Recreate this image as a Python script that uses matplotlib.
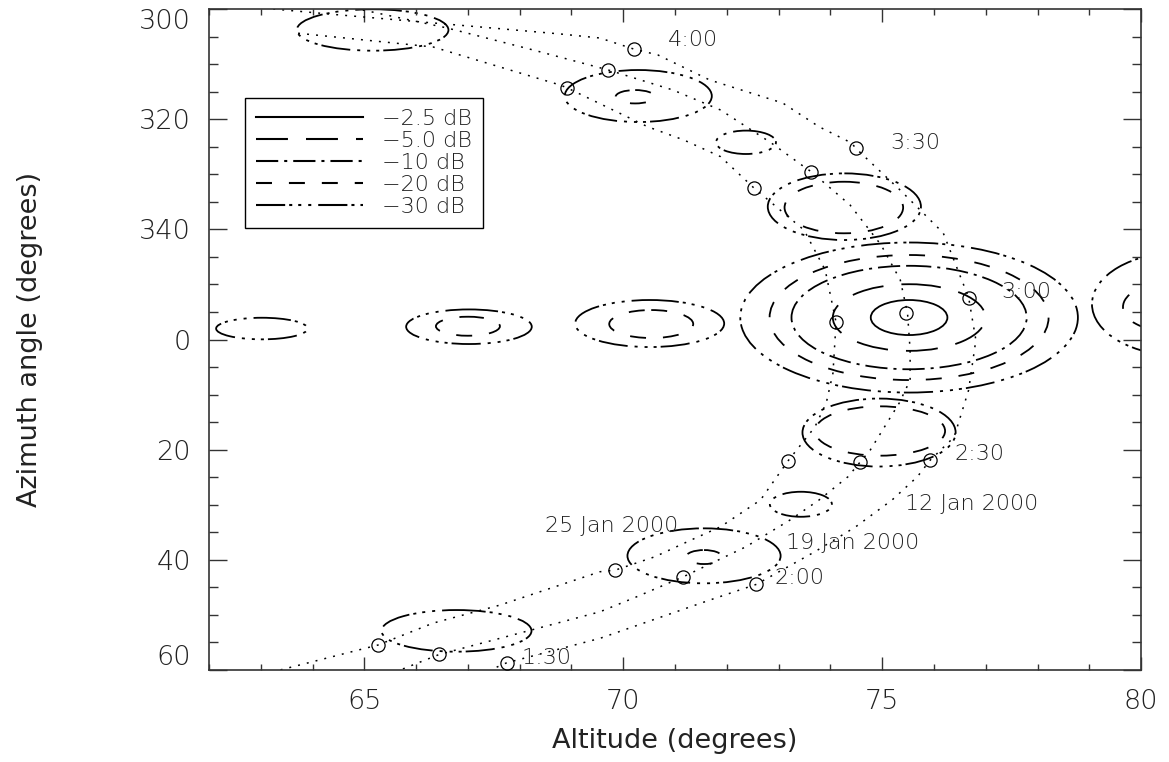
import matplotlib
matplotlib.use('Agg')
import matplotlib.pyplot as plt
from matplotlib.patches import Ellipse
from matplotlib.lines import Line2D
from matplotlib.ticker import MultipleLocator, FixedLocator

plt.rcParams['font.family'] = ['DejaVu Sans']
plt.rcParams['font.weight'] = 'light'
plt.rcParams['lines.scale_dashes'] = False

# source tracks (altitude, azimuth in degrees; azimuth 300..360 stored as -60..0)
alt_12jan = [63.24, 64.34, 65.69, 67.23, 68.78, 69.55, 70.20, 70.67, 71.67, 73.08, 73.78, 74.41, 74.49,
             75.35, 76.18, 76.67, 76.81, 76.67, 76.39, 75.93, 75.68, 75.19, 74.49, 73.70, 72.57, 71.67,
             69.55, 67.75, 67.43]
az_12jan = [-60.0, -59.07, -57.98, -56.74, -55.47, -54.73, -52.74, -51.65, -47.11, -42.93, -38.63, -35.67,
            -34.71, -27.1, -19.33, -7.62, 0.09, 9.17, 17.71, 21.88, 24.91, 29.14, 33.99, 38.53, 44.45,
            47.30, 54.25, 58.68, 60.0]

alt_19jan = [64.97, 66.60, 68.26, 69.71, 70.96, 71.88, 72.86, 73.49, 73.63, 74.38, 74.98, 75.35, 75.49,
             75.54, 75.54, 75.33, 74.77, 74.57, 74.34, 73.78, 73.22, 72.37, 71.16, 70.26, 69.55, 66.45,
             65.69]
az_19jan = [-59.82, -56.55, -52.56, -48.93, -45.29, -41.66, -35.67, -31.37, -30.46, -24.42, -17.15, -10.80,
            -4.75, 1.91, 7.36, 11.53, 20.07, 22.30, 24.91, 29.14, 32.77, 37.62, 43.07, 46.70, 49.43,
            57.16, 60.0]

alt_25jan = [63.72, 66.33, 68.78, 68.91, 70.47, 71.17, 71.88, 72.53, 73.49, 73.90, 74.11, 74.05,
             73.92, 73.70, 73.18, 72.65, 71.88, 71.31, 70.61, 69.85, 69.55, 67.62, 66.33, 65.26, 63.37]
az_25jan = [-55.6, -53.10, -46.20, -45.71, -38.63, -36.22, -33.19, -27.45, -19.88, -12.61, -3.12,
            6.09, 11.53, 15.89, 22.06, 29.14, 33.99, 36.40, 39.44, 41.85, 42.16, 48.21, 51.48, 55.47, 60.0]

# positions at 1:30, 2:00, 2:30, 3:00, 3:30, 4:00
mark_alt_12jan = [67.75, 72.57, 75.93, 76.67, 74.49, 70.20]
mark_az_12jan = [58.68, 44.45, 21.88, -7.62, -34.71, -52.74]
mark_alt_19jan = [66.45, 71.16, 74.57, 75.47, 73.63, 69.71]
mark_az_19jan = [57.16, 43.07, 22.30, -4.75, -30.46, -48.93]
mark_alt_25jan = [65.26, 69.85, 73.18, 74.11, 72.53, 68.91]
mark_az_25jan = [55.47, 41.85, 22.06, -3.12, -27.45, -45.71]

# beam contours: centre, half widths and level in dB
beam_alt = [65.16, 70.29, 70.23, 72.37, 74.27, 74.26,
            75.52, 75.52, 75.52, 75.52, 75.52,
            74.94, 74.96, 73.43, 71.56, 71.56, 66.78,
            63.02, 67.02, 67.00, 70.51, 70.54, 80.79, 80.52]
beam_az = [-56.19, -44.20, -44.07, -35.80, -24.11, -23.96,
           -3.99, -3.99, -3.99, -3.99, -3.99,
           16.89, 16.61, 29.91, 39.27, 39.49, 52.89,
           -1.99, -2.32, -2.41, -2.90, -2.81, -6.44, -5.90]
beam_dalt = [1.464, 1.42, 0.377, 0.579, 1.479, 1.145,
             0.740, 1.473, 2.271, 2.694, 3.26,
             1.479, 1.255, 0.599, 1.479, 0.351, 1.448,
             0.883, 1.213, 0.618, 1.439, 0.811, 1.738, 0.869]
beam_daz = [3.76, 4.72, 1.216, 2.124, 6.05, 4.68,
            3.18, 6.05, 9.39, 11.35, 13.62,
            6.17, 4.48, 2.27, 4.99, 1.27, 3.78,
            1.96, 3.14, 1.725, 4.27, 2.54, 9.44, 4.36]
beam_level = [-30, -30, -20, -30, -30, -20,
              -2.5, -5, -10, -20, -30,
              -30, -20, -30, -30, -20, -30,
              -30, -30, -20, -30, -20, -30, -20]

levels = [-2.5, -5, -10, -20, -30]
level_labels = ['\u22122.5 dB', '\u22125.0 dB', '\u221210 dB', '\u221220 dB', '\u221230 dB']

time_labels = ['4:00', '3:30', '3:00', '2:30', '2:00', '1:30']
time_label_alt = [70.86, 75.15, 77.30, 76.39, 72.93, 68.04]
time_label_az = [-54.37, -35.67, -8.71, 20.79, 43.21, 57.83]
date_labels = ['12 Jan 2000', '19 Jan 2000', '25 Jan 2000']
date_label_alt = [75.44, 73.14, 68.49]
date_label_az = [29.87, 36.95, 33.86]

az_ticks = [-60, -40, -20, 0, 20, 40, 60]
az_tick_labels = ['300', '320', '340', '0', '20', '40', '60']
alt_ticks = [65, 70, 75, 80]

# dash patterns in points
styles = {
    -2.5: '-',
    -5: (0, (23, 13)),
    -10: (0, (16, 4.3, 2.2, 4.3)),
    -20: (0, (11.5, 12.2)),
    -30: (0, (21, 2.9, 2.2, 4.3, 2.2, 5, 2.2, 5)),
}
dotted = (0, (1.4, 5.1))
ink = '#222222'

fig = plt.figure(figsize=(11.69, 7.62), dpi=100)
ax = fig.add_axes([0.1788, 0.1207, 0.7973, 0.8675])

for alt, az in [(alt_12jan, az_12jan), (alt_19jan, az_19jan), (alt_25jan, az_25jan)]:
    ax.plot(alt, az, color='k', lw=1.1, ls=dotted)

for alt, az in [(mark_alt_12jan, mark_az_12jan), (mark_alt_19jan, mark_az_19jan),
                (mark_alt_25jan, mark_az_25jan)]:
    ax.plot(alt, az, ls='none', marker='o', ms=9.5, mfc='none', mec='k', mew=0.9, zorder=4)

for cx, cy, dx, dy, lev in zip(beam_alt, beam_az, beam_dalt, beam_daz, beam_level):
    ax.add_patch(Ellipse((cx, cy), 2 * dx, 2 * dy, fill=False, ec='k', lw=1.3, ls=styles[lev]))

for s, x, y in zip(time_labels, time_label_alt, time_label_az):
    ax.text(x, y, s, fontsize=16, color=ink, ha='left', va='center')
for s, x, y in zip(date_labels, date_label_alt, date_label_az):
    ax.text(x, y, s, fontsize=16, color=ink, ha='left', va='center')

handles = [Line2D([], [], color='k', lw=1.5, ls=styles[lev]) for lev in levels]
leg = ax.legend(handles, level_labels, loc='upper left', bbox_to_anchor=(0.0386, 0.866),
                borderaxespad=0, fontsize=16, handlelength=4.8, handletextpad=0.86,
                labelspacing=0.09, borderpad=0.5, fancybox=False, framealpha=1, edgecolor='k')
leg.get_frame().set_linewidth(1.0)
for t in leg.get_texts():
    t.set_color(ink)

ax.set_xlim(62, 80)
ax.set_ylim(60, -60)
ax.xaxis.set_major_locator(FixedLocator(alt_ticks))
ax.xaxis.set_minor_locator(MultipleLocator(1))
ax.yaxis.set_major_locator(FixedLocator(az_ticks))
ax.yaxis.set_minor_locator(MultipleLocator(5))
ax.set_yticklabels(az_tick_labels)

ax.tick_params(axis='both', which='both', direction='in', top=True, right=True,
               colors='#333333', labelcolor=ink, labelsize=19.5, width=1.0)
ax.tick_params(axis='x', which='major', length=9.4, pad=13.4)
ax.tick_params(axis='x', which='minor', length=4.3)
ax.tick_params(axis='y', which='major', length=13, pad=13)
ax.tick_params(axis='y', which='minor', length=6.5)
ylabs = ax.get_yticklabels()
ylabs[0].set_va('top')
ylabs[-1].set_va('bottom')

for sp in ax.spines.values():
    sp.set_linewidth(1.2)
    sp.set_color('#333333')

ax.set_xlabel('Altitude (degrees)', fontsize=19.5, color=ink, va='top')
ax.xaxis.set_label_coords(0.5, -0.0877)
ax.set_ylabel('Azimuth angle (degrees)', fontsize=19.5, color=ink)
ax.yaxis.set_label_coords(-0.178, 0.5)

fig.savefig('out.png', dpi=100)
